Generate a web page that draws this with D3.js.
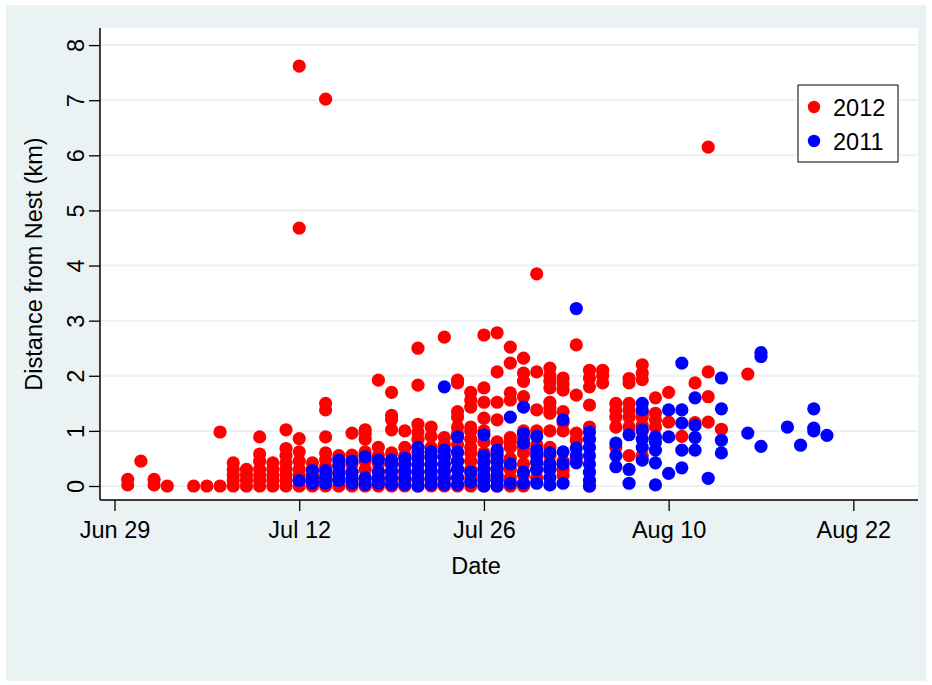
<!DOCTYPE html>
<html lang="en">
<head>
  <meta charset="UTF-8">
  <title>Distance from Nest by Date</title>
  <script src="https://d3js.org/d3.v7.min.js"></script>
  <style>
    body { margin: 0; background: #fff; }
    text { font-family: "Liberation Sans", Arial, sans-serif; fill: #000; }
  </style>
</head>
<body>
<div id="chart"></div>
<script>
// x = days since first tick, each row: [day, distances (km)]
const points2012 = [
  [1, [0.02, 0.12]],
  [2, [0.45]],
  [3, [0.02, 0.12]],
  [4, [0]],
  [6, [0]],
  [7, [0]],
  [8, [0, 0.98]],
  [9, [0, 0.1, 0.2, 0.3, 0.42]],
  [10, [0, 0.1, 0.2, 0.3]],
  [11, [0, 0.1, 0.2, 0.3, 0.45, 0.58, 0.89]],
  [12, [0, 0.1, 0.2, 0.3, 0.42]],
  [13, [0, 0.1, 0.2, 0.3, 0.42, 0.55, 0.68, 1.02]],
  [14, [0, 0.1, 0.2, 0.3, 0.45, 0.62, 0.86, 4.68, 7.62]],
  [15, [0, 0.1, 0.2, 0.3, 0.42]],
  [16, [0, 0.1, 0.2, 0.35, 0.48, 0.6, 0.89, 1.38, 1.5, 7.02]],
  [17, [0, 0.12, 0.25, 0.4, 0.55]],
  [18, [0, 0.12, 0.25, 0.4, 0.56, 0.96]],
  [19, [0, 0.12, 0.3, 0.45, 0.62, 0.85, 0.95, 1.02]],
  [20, [0, 0.12, 0.25, 0.4, 0.55, 0.7, 1.92]],
  [21, [0, 0.12, 0.25, 0.4, 0.6, 1.02, 1.2, 1.28, 1.7]],
  [22, [0, 0.12, 0.25, 0.4, 0.55, 0.7, 1.0]],
  [23, [0, 0.12, 0.25, 0.4, 0.55, 0.7, 0.85, 0.98, 1.12, 1.83, 2.5]],
  [24, [0, 0.12, 0.25, 0.4, 0.55, 0.7, 0.9, 1.07]],
  [25, [0, 0.12, 0.25, 0.4, 0.55, 0.75, 0.88, 2.7]],
  [26, [0, 0.15, 0.3, 0.45, 0.6, 0.75, 0.95, 1.07, 1.25, 1.35, 1.87, 1.92]],
  [27, [0, 0.15, 0.3, 0.45, 0.6, 0.7, 0.85, 1.0, 1.07, 1.43, 1.56, 1.7]],
  [28, [0, 0.15, 0.3, 0.45, 0.6, 0.8, 1.0, 1.23, 1.52, 1.78, 2.74]],
  [29, [0, 0.15, 0.3, 0.45, 0.6, 0.8, 1.2, 1.52, 2.07, 2.78]],
  [30, [0, 0.15, 0.3, 0.5, 0.7, 0.8, 0.88, 1.56, 1.69, 2.23, 2.52]],
  [31, [0, 0.2, 0.4, 0.6, 0.7, 0.85, 1.0, 1.62, 1.9, 2.05, 2.32]],
  [32, [0.15, 0.3, 0.45, 0.6, 0.75, 1.0, 1.38, 2.07, 3.85]],
  [33, [0.3, 0.4, 0.55, 0.7, 1.0, 1.32, 1.42, 1.52, 1.78, 1.9, 2.0, 2.14]],
  [34, [0.2, 0.3, 0.45, 1.0, 1.15, 1.35, 1.74, 1.85, 1.96]],
  [35, [0.5, 0.83, 0.96, 1.65, 2.56]],
  [36, [0, 1.07, 1.47, 1.8, 1.96, 2.1]],
  [37, [1.87, 2.0, 2.1]],
  [38, [0.7, 1.07, 1.25, 1.38, 1.5]],
  [39, [0.55, 1.07, 1.25, 1.38, 1.5, 1.87, 1.95]],
  [40, [0.55, 1.0, 1.1, 1.25, 1.32, 1.93, 2.05, 2.2]],
  [41, [1.07, 1.2, 1.32, 1.6]],
  [42, [1.16, 1.7]],
  [43, [0.9]],
  [44, [1.15, 1.87]],
  [45, [1.16, 1.62, 2.07, 6.15]],
  [46, [1.03]],
  [48, [2.03]]
];

const points2011 = [
  [14, [0.1]],
  [15, [0.05, 0.15, 0.28]],
  [16, [0.05, 0.15, 0.28]],
  [17, [0.1, 0.22, 0.35, 0.47]],
  [18, [0.05, 0.15, 0.25, 0.45]],
  [19, [0.03, 0.15, 0.53]],
  [20, [0.05, 0.15, 0.26, 0.47]],
  [21, [0.03, 0.15, 0.28, 0.4, 0.47]],
  [22, [0.03, 0.15, 0.28, 0.4, 0.5]],
  [23, [0, 0.12, 0.25, 0.38, 0.5, 0.62, 0.7]],
  [24, [0.03, 0.15, 0.28, 0.4, 0.52, 0.62]],
  [25, [0.03, 0.15, 0.28, 0.4, 0.52, 0.65, 1.8]],
  [26, [0.03, 0.15, 0.3, 0.45, 0.62, 0.89]],
  [27, [0.07, 0.25]],
  [28, [0, 0.1, 0.2, 0.3, 0.42, 0.55, 0.93]],
  [29, [0, 0.1, 0.2, 0.32, 0.45, 0.55, 0.65]],
  [30, [0.05, 0.4, 1.25]],
  [31, [0.05, 0.25, 0.78, 0.95, 1.43]],
  [32, [0.05, 0.3, 0.42, 0.55, 0.65, 0.9]],
  [33, [0.02, 0.15, 0.3, 0.4, 0.6]],
  [34, [0.05, 0.4, 0.62, 1.2]],
  [35, [0.42, 0.55, 0.69, 3.22]],
  [36, [0, 0.1, 0.25, 0.4, 0.55, 0.7, 0.85, 0.98]],
  [38, [0.35, 0.55, 0.78]],
  [39, [0.05, 0.3, 0.93]],
  [40, [0.47, 0.7, 0.85, 1.02, 1.38, 1.5]],
  [41, [0.02, 0.42, 0.65, 0.8, 0.89]],
  [42, [0.23, 0.89, 1.38]],
  [43, [0.33, 0.65, 1.14, 1.38, 2.23]],
  [44, [0.65, 0.88, 1.1, 1.6]],
  [45, [0.14]],
  [46, [0.6, 0.83, 1.4, 1.96]],
  [48, [0.96]],
  [49, [0.72, 2.35, 2.42]],
  [51, [1.07]],
  [52, [0.74]],
  [53, [1.0, 1.05, 1.4]],
  [54, [0.92]]
];

const xTickValues = [0, 14, 28, 42, 56];
const xTickLabels = ["Jun 29", "Jul 12", "Jul 26", "Aug 10", "Aug 22"];
const yTickValues = [0, 1, 2, 3, 4, 5, 6, 7, 8];
const seriesNames = ["2012", "2011"];
const seriesColors = ["#ff0000", "#0000ff"];

const width = 932, height = 685;
const plot = {left: 100, right: 918, top: 28, bottom: 500};
const fontSize = 23.5;

const flatten = rows => rows.flatMap(([day, vals]) => vals.map(v => ({day: day, dist: v})));
const data2012 = flatten(points2012);
const data2011 = flatten(points2011);

const svg = d3.select("#chart").append("svg")
  .attr("width", width)
  .attr("height", height);

// outer graph region
svg.append("rect")
  .attr("x", 6).attr("y", 5)
  .attr("width", 920).attr("height", 676)
  .attr("fill", "#eaf2f3");

// plot region
svg.append("rect")
  .attr("x", plot.left).attr("y", plot.top)
  .attr("width", plot.right - plot.left).attr("height", plot.bottom - plot.top)
  .attr("fill", "#fff");

const x = d3.scaleLinear()
  .domain([-1.1, 60.9])
  .range([plot.left, plot.right]);

const y = d3.scaleLinear()
  .domain([-0.254, 8.31])
  .range([plot.bottom, plot.top]);

// grid lines
svg.append("g")
  .selectAll("line")
  .data(yTickValues)
  .join("line")
    .attr("x1", plot.left).attr("x2", plot.right)
    .attr("y1", d => y(d)).attr("y2", d => y(d))
    .attr("stroke", "#eaf2f3")
    .attr("stroke-width", 2);

// points: 2012 first, 2011 drawn over it
[data2012, data2011].forEach((series, i) => {
  svg.append("g")
    .selectAll("circle")
    .data(series)
    .join("circle")
      .attr("cx", d => x(d.day))
      .attr("cy", d => y(d.dist))
      .attr("r", 6.6)
      .attr("fill", seriesColors[i]);
});

// y axis
const yAxis = svg.append("g")
  .attr("transform", `translate(${plot.left},0)`)
  .call(d3.axisLeft(y).tickValues(yTickValues).tickSize(11).tickSizeOuter(0).tickFormat(d3.format("d")));
yAxis.select(".domain").attr("d", `M0,${plot.top}V${plot.bottom}`).attr("stroke", "#000").attr("stroke-width", 1.5);
yAxis.selectAll(".tick line").attr("stroke", "#000").attr("stroke-width", 1.3);
yAxis.selectAll(".tick text")
  .attr("x", null).attr("dy", null)
  .attr("text-anchor", "middle")
  .attr("transform", "translate(-16,0) rotate(-90)")
  .style("font-size", fontSize + "px")
  .style("font-family", "'Liberation Sans', Arial, sans-serif")
  .attr("fill", "#000");

// x axis
const xAxis = svg.append("g")
  .attr("transform", `translate(0,${plot.bottom})`)
  .call(d3.axisBottom(x).tickValues(xTickValues).tickSize(11).tickSizeOuter(0)
    .tickFormat((d, i) => xTickLabels[i]));
xAxis.select(".domain").attr("d", `M${plot.left},0H${plot.right}`).attr("stroke", "#000").attr("stroke-width", 1.5);
xAxis.selectAll(".tick line").attr("stroke", "#000").attr("stroke-width", 1.3);
xAxis.selectAll(".tick text")
  .attr("y", 38).attr("dy", null)
  .style("font-size", fontSize + "px")
  .style("font-family", "'Liberation Sans', Arial, sans-serif")
  .attr("fill", "#000");

// axis titles
svg.append("text")
  .attr("transform", `translate(42,${(plot.top + plot.bottom) / 2}) rotate(-90)`)
  .attr("text-anchor", "middle")
  .style("font-size", fontSize + "px")
  .text("Distance from Nest (km)");

svg.append("text")
  .attr("x", 476).attr("y", 574)
  .attr("text-anchor", "middle")
  .style("font-size", fontSize + "px")
  .text("Date");

// legend
const legend = svg.append("g").attr("transform", "translate(798,85)");
legend.append("rect")
  .attr("width", 100).attr("height", 77)
  .attr("fill", "#fff")
  .attr("stroke", "#000")
  .attr("stroke-width", 1);
seriesNames.forEach((name, i) => {
  legend.append("circle")
    .attr("cx", 16).attr("cy", 22 + i * 34)
    .attr("r", 6.2)
    .attr("fill", seriesColors[i]);
  legend.append("text")
    .attr("x", 35).attr("y", 22 + i * 34 + 8.5)
    .style("font-size", fontSize + "px")
    .text(name);
});
</script>
</body>
</html>
